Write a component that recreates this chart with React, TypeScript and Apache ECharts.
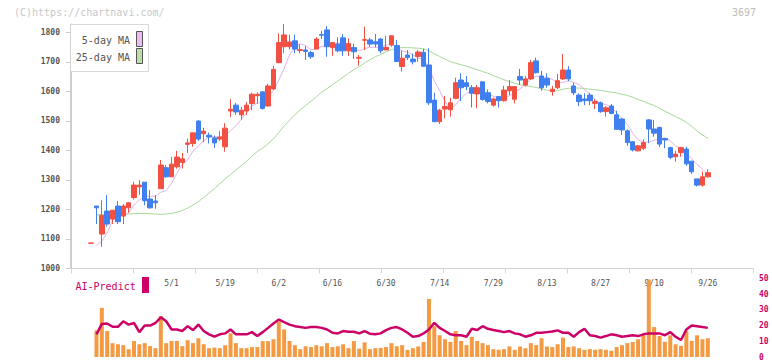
import React, { useEffect, useRef } from 'react';
import * as echarts from 'echarts';

const dates = [
  '4/9','4/10','4/11','4/14','4/15','4/16','4/17','4/18','4/21','4/22','4/23','4/24','4/25','4/28','4/30',
  '5/1','5/2','5/7','5/8','5/9','5/12','5/13','5/14','5/15','5/16','5/19','5/20','5/21','5/22','5/23','5/26','5/27','5/28','5/29','5/30',
  '6/2','6/3','6/4','6/5','6/6','6/9','6/10','6/11','6/12','6/13','6/16','6/17','6/18','6/19','6/20','6/23','6/24','6/25','6/26','6/27','6/30',
  '7/1','7/2','7/3','7/4','7/7','7/8','7/9','7/10','7/11','7/14','7/15','7/16','7/17','7/18','7/22','7/23','7/24','7/25','7/28','7/29','7/30','7/31',
  '8/1','8/4','8/5','8/6','8/7','8/8','8/12','8/13','8/14','8/15','8/18','8/19','8/20','8/21','8/22','8/25','8/26','8/27','8/28','8/29',
  '9/1','9/2','9/3','9/4','9/5','9/8','9/9','9/10','9/11','9/12','9/16','9/17','9/18','9/19','9/22','9/24','9/25','9/26'
];

const opens = [1085,1211,1116,1194,1167,1211,1177,1205,1240,1276,
  1292,1235,1228,1270,1341,1310,1344,1359,1420,1423,
  1499,1456,1451,1442,1438,1412,1533,1553,1520,1533,
  1558,1585,1598,1550,1608,1697,1751,1751,1771,1738,
  1740,1731,1743,1792,1808,1748,1760,1781,1737,1748,
  1712,1773,1774,1768,1777,1740,1757,1755,1684,1723,
  1709,1718,1732,1689,1570,1497,1540,1537,1576,1638,
  1629,1612,1591,1632,1595,1553,1582,1568,1602,1573,
  1650,1621,1642,1703,1652,1644,1599,1612,1642,1672,
  1618,1587,1574,1587,1559,1561,1531,1550,1520,1506,
  1466,1429,1398,1407,1503,1472,1477,1440,1409,1378,
  1392,1404,1363,1303,1282,1310];

const closes = [1086,1205,1180,1150,1197,1158,1211,1222,1282,1282,
  1229,1205,1222,1350,1310,1353,1377,1371,1425,1459,
  1438,1465,1445,1425,1445,1475,1539,1530,1536,1553,
  1590,1590,1542,1618,1674,1765,1791,1767,1743,1741,
  1735,1717,1777,1790,1751,1765,1737,1737,1762,1734,
  1715,1775,1760,1760,1737,1749,1788,1701,1712,1714,
  1700,1733,1685,1561,1497,1536,1548,1561,1629,1612,
  1616,1593,1612,1572,1565,1574,1568,1604,1616,1616,
  1638,1642,1697,1663,1612,1621,1607,1636,1672,1642,
  1595,1565,1568,1568,1565,1531,1544,1525,1471,1469,
  1426,1401,1415,1426,1472,1458,1421,1435,1376,1387,
  1409,1354,1327,1282,1310,1324];

const lows = [1085,1150,1073,1141,1150,1150,1150,1188,1233,1248,
  1214,1202,1202,1270,1307,1310,1338,1338,1391,1412,
  1432,1427,1423,1408,1432,1395,1513,1520,1504,1520,
  1536,1558,1538,1548,1605,1695,1729,1742,1729,1729,
  1706,1710,1743,1777,1717,1720,1732,1720,1720,1710,
  1687,1740,1751,1749,1729,1740,1751,1699,1667,1706,
  1691,1700,1683,1553,1495,1489,1508,1514,1573,1567,
  1604,1545,1542,1568,1559,1548,1545,1565,1587,1559,
  1621,1616,1638,1660,1602,1612,1585,1607,1638,1634,
  1587,1550,1553,1553,1540,1527,1514,1522,1469,1452,
  1415,1396,1396,1401,1424,1446,1412,1407,1370,1361,
  1378,1347,1320,1277,1277,1307];

const highs = [1086,1211,1231,1248,1197,1228,1218,1224,1293,1299,
  1292,1265,1248,1367,1350,1378,1398,1391,1440,1459,
  1502,1476,1460,1450,1465,1492,1573,1561,1547,1563,
  1595,1596,1600,1625,1686,1796,1828,1792,1792,1760,
  1753,1737,1783,1805,1821,1767,1783,1794,1779,1762,
  1723,1819,1781,1794,1781,1788,1790,1774,1737,1740,
  1728,1740,1744,1746,1595,1540,1584,1578,1646,1661,
  1652,1621,1621,1632,1606,1578,1584,1618,1638,1616,
  1676,1652,1706,1714,1669,1661,1618,1659,1726,1685,
  1629,1593,1593,1595,1573,1565,1550,1557,1534,1508,
  1471,1431,1418,1437,1506,1503,1480,1442,1412,1398,
  1412,1412,1364,1303,1328,1336];

const ma5 = [null,1077,1092,1120,1163,1178,1179,1188,1214,1231,
  1245,1244,1244,1258,1263,1288,1322,1352,1367,1397,
  1414,1432,1446,1446,1444,1451,1466,1483,1505,1527,
  1550,1560,1562,1579,1603,1638,1678,1723,1748,1761,
  1755,1741,1743,1752,1754,1760,1764,1756,1750,1747,
  1737,1745,1749,1749,1749,1756,1759,1747,1737,1733,
  1723,1712,1709,1679,1635,1602,1565,1541,1554,1577,
  1593,1602,1612,1601,1592,1583,1578,1577,1585,1596,
  1608,1623,1642,1651,1650,1647,1640,1628,1630,1636,
  1630,1622,1608,1588,1572,1559,1555,1547,1527,1508,
  1487,1458,1436,1427,1428,1434,1438,1442,1432,1415,
  1406,1392,1371,1352,1336,1319];

const ma25 = [null,1181,1181,1181,1182,1182,1183,1184,1185,1186,
  1186,1185,1184,1183,1184,1186,1190,1196,1204,1214,
  1226,1240,1255,1270,1287,1303,1318,1333,1348,1363,
  1380,1396,1408,1422,1439,1460,1483,1502,1520,1537,
  1552,1566,1581,1597,1609,1622,1635,1648,1661,1674,
  1684,1696,1707,1717,1725,1733,1741,1746,1748,1748,
  1747,1746,1744,1737,1727,1718,1709,1700,1695,1690,
  1685,1679,1673,1667,1661,1653,1646,1639,1633,1627,
  1622,1619,1616,1613,1609,1604,1601,1602,1607,1610,
  1611,1611,1609,1607,1605,1603,1600,1597,1594,1590,
  1586,1580,1572,1566,1558,1552,1542,1533,1523,1514,
  1506,1495,1481,1465,1452,1441];

const volume = [null,16.9,31.2,16.5,8.8,8.1,7.5,5.0,10.1,8.1,
  8.8,6.9,5.6,26.0,8.8,10.2,10.2,6.9,10.7,8.8,
  11.9,8.1,5.6,6.0,5.6,7.5,15.0,8.8,5.6,5.6,
  6.3,6.3,10.1,10.1,11.3,22.5,17.5,10.2,7.5,5.0,
  6.8,6.3,7.5,6.8,8.8,6.3,6.8,8.1,5.6,10.1,
  5.3,9.3,5.0,5.6,5.8,6.3,8.8,6.8,7.5,4.5,
  5.6,6.7,9.6,36.9,19.6,13.8,11.3,9.6,16.5,10.2,
  7.5,12.7,10.2,8.8,7.5,5.0,4.6,5.0,6.7,4.6,
  6.7,5.6,8.8,7.5,11.9,6.7,6.3,8.1,12.3,6.3,
  6.7,5.6,4.6,5.0,4.6,5.0,4.6,4.0,6.3,7.5,
  8.8,9.6,11.3,13.8,49.2,19.0,13.3,9.6,13.8,8.1,
  7.1,16.5,10.2,13.8,11.3,11.9];

const aiPredict = [null,14.4,21.0,21.3,19.2,19.2,22.7,20.6,21.6,15.8,
  20.0,20.0,21.6,25.2,22.7,17.5,17.5,16.5,19.6,17.1,
  20.6,16.5,14.4,12.9,14.4,15.0,17.5,14.4,14.4,14.4,
  15.8,13.3,15.8,18.5,21.3,23.8,22.1,20.6,19.6,19.0,
  18.5,19.0,19.0,18.5,17.5,15.4,15.0,16.5,16.0,16.0,
  15.0,16.5,14.8,14.4,15.0,17.1,18.5,19.0,17.5,15.4,
  12.9,13.3,15.0,17.5,21.7,18.5,16.5,14.4,13.8,13.8,
  12.9,17.9,17.1,19.6,17.9,17.1,16.5,15.8,16.5,15.0,
  14.4,12.9,13.8,15.4,15.4,15.8,16.2,16.9,15.4,15.4,
  12.9,15.8,17.9,13.8,13.3,12.3,13.3,14.4,13.8,12.9,
  13.3,13.8,13.3,14.4,15.0,15.0,15.0,13.8,15.8,12.9,
  10.8,17.5,20.0,19.6,19.0,18.5];

const priceTicks = [1000, 1100, 1200, 1300, 1400, 1500, 1600, 1700, 1800];
const labelDates = ['5/1','5/19','6/2','6/16','6/30','7/14','7/29','8/13','8/27','9/10','9/26'];

const X_MIN = -3.75;
const X_MAX = 123.43;
const MONO = "'DejaVu Sans Mono', 'Liberation Mono', monospace";

function pairs(arr: (number | null)[]) {
  const out: [number, number][] = [];
  arr.forEach((v, i) => { if (v != null) out.push([i, v]); });
  return out;
}

export default function App() {
  const ref = useRef<HTMLDivElement>(null);
  useEffect(() => {
    if (!ref.current) return;
    const chart = echarts.init(ref.current, undefined, { renderer: 'svg' });
    const xTicks = Array.from({ length: 12 }, (_, k) => X_MIN + (k * (X_MAX - X_MIN)) / 11);
    const labelIdx = labelDates.map((d) => dates.indexOf(d));
    const candles = dates.map((_, i) => [i, opens[i], closes[i], lows[i], highs[i]]);
    chart.setOption({
      animation: false,
      backgroundColor: '#ffffff',
      grid: [
        { left: 71, right: 19, top: 24, height: 244.3 },
        { left: 71, right: 19, top: 278.3, height: 79.7 },
      ],
      xAxis: [
        {
          type: 'value', gridIndex: 0, min: X_MIN, max: X_MAX,
          axisLine: { show: true, onZero: false, lineStyle: { color: '#d4d4d4', width: 1 } },
          axisTick: { show: true, customValues: xTicks, length: 5, lineStyle: { color: '#d4d4d4' } },
          axisLabel: {
            customValues: labelIdx,
            formatter: (v: number) => dates[Math.round(v)] || '',
            margin: 11, fontSize: 8, color: '#555555', fontFamily: MONO,
          },
          splitLine: { show: false },
        },
        { type: 'value', gridIndex: 1, min: X_MIN, max: X_MAX, show: false },
      ],
      yAxis: [
        {
          type: 'value', gridIndex: 0, min: 1000, max: 1828, position: 'left',
          axisLine: { show: true, onZero: false, lineStyle: { color: '#cccccc', width: 1 } },
          axisTick: { show: true, customValues: priceTicks, length: 5, lineStyle: { color: '#cccccc' } },
          axisLabel: {
            customValues: priceTicks, margin: 11, fontSize: 8, fontWeight: 'bold',
            color: '#555555', fontFamily: MONO,
            formatter: (v: number) => String(Math.round(v)),
          },
          splitLine: { show: false },
        },
        {
          type: 'value', gridIndex: 1, min: 0, max: 50, interval: 10, position: 'right',
          axisLine: { show: false, onZero: false }, axisTick: { show: false },
          axisLabel: { margin: 6, fontSize: 8, fontWeight: 'bold', color: '#cc0066', fontFamily: MONO },
          splitLine: { show: false },
        },
      ],
      series: [
        {
          type: 'line', name: '25-day MA', xAxisIndex: 0, yAxisIndex: 0, data: pairs(ma25),
          symbol: 'none', lineStyle: { color: '#a9d79a', width: 1 }, z: 2,
        },
        {
          type: 'line', name: '5-day MA', xAxisIndex: 0, yAxisIndex: 0, data: pairs(ma5),
          symbol: 'none', lineStyle: { color: '#e6b0ea', width: 1 }, z: 2,
        },
        {
          type: 'candlestick', name: 'price', xAxisIndex: 0, yAxisIndex: 0, data: candles,
          encode: { x: 0, y: [1, 2, 3, 4] }, barWidth: 5, z: 3,
          itemStyle: {
            color: '#f25042', color0: '#3f7ff0',
            borderColor: '#f25042', borderColor0: '#3f7ff0', borderWidth: 1,
          },
        },
        {
          type: 'bar', name: 'volume', xAxisIndex: 1, yAxisIndex: 1, data: pairs(volume),
          barWidth: 4, itemStyle: { color: '#f39a42' }, z: 2,
        },
        {
          type: 'line', name: 'AI-Predict', xAxisIndex: 1, yAxisIndex: 1, data: pairs(aiPredict),
          symbol: 'none', lineStyle: { color: '#cc0066', width: 2.5 }, z: 3,
        },
      ],
      graphic: [
        { type: 'rect', z: 100, shape: { x: 70, y: 24, width: 1, height: 245 }, style: { fill: '#d0d0d0' } },
        { type: 'text', left: 14, top: 7, style: { text: '(C)https://chartnavi.com/', fontSize: 10, fontFamily: MONO, fill: '#c8c8c8' } },
        { type: 'text', x: 756, y: 12, style: { text: '3697', fontSize: 10, fontFamily: MONO, fill: '#bbbbbb', align: 'right', verticalAlign: 'middle' } },
        { type: 'rect', shape: { x: 70.5, y: 24.5, width: 78, height: 47 }, style: { fill: '#ffffff', stroke: '#d8d8d8', lineWidth: 1 }, z: 10 },
        { type: 'text', x: 130, y: 40.7, style: { text: '5-day MA', fontSize: 10, fontFamily: MONO, fill: '#555555', align: 'right', verticalAlign: 'middle' }, z: 11 },
        { type: 'rect', shape: { x: 136.5, y: 31.5, width: 6, height: 15 }, style: { fill: '#eebbee', stroke: '#555555', lineWidth: 1 }, z: 11 },
        { type: 'text', x: 130, y: 57.3, style: { text: '25-day MA', fontSize: 10, fontFamily: MONO, fill: '#555555', align: 'right', verticalAlign: 'middle' }, z: 11 },
        { type: 'rect', shape: { x: 136.5, y: 48.5, width: 6, height: 15 }, style: { fill: '#bbddaa', stroke: '#555555', lineWidth: 1 }, z: 11 },
        { type: 'text', x: 75.5, y: 286, style: { text: 'AI-Predict', fontSize: 10, fontFamily: MONO, fill: '#cc0066', verticalAlign: 'middle' }, z: 11 },
        { type: 'rect', shape: { x: 142, y: 277, width: 7, height: 16 }, style: { fill: '#cc0066' }, z: 11 },
      ],
    });
    return () => chart.dispose();
  }, []);
  return <div ref={ref} style={{ position: 'fixed', left: 0, top: 0, width: 772, height: 361 }} />;
}
